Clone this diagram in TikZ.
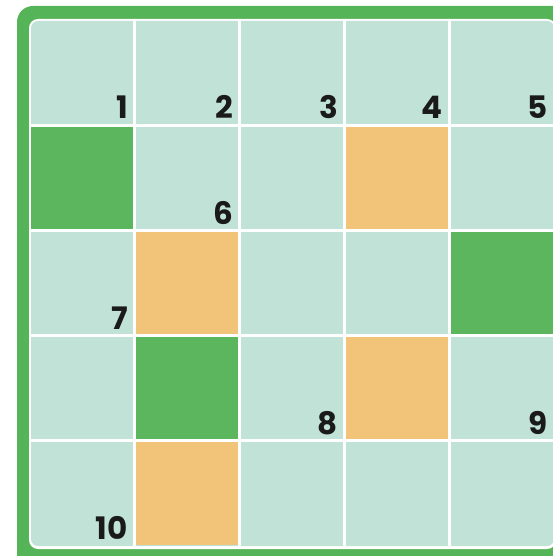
\documentclass[tikz,border=0pt]{standalone}
\usepackage{fontspec}
\newfontfamily\numfont{Poppins}
\definecolor{frame}{RGB}{86,180,88}
\definecolor{mint}{RGB}{193,227,215}
\definecolor{leaf}{RGB}{92,182,94}
\definecolor{apricot}{RGB}{241,196,122}
\definecolor{ink}{RGB}{26,26,26}
\tikzset{
  num/.style={anchor=base east, inner sep=0pt, text=ink,
    font=\numfont\bfseries\fontsize{31}{31}\selectfont},
  gridline/.style={white, line width=3pt}
}

\begin{document}
\begin{tikzpicture}[x=1pt, y=-1pt]
\useasboundingbox (0,0) rectangle (553,556);
\clip (0,0) rectangle (553,556);
% frame and board
\fill[frame, rounded corners=16pt] (17,6) rectangle (600,600);
\fill[white, rounded corners=9pt] (29,19) rectangle (556,549);
\fill[mint, rounded corners=7pt] (31,21) rectangle (554,546);
% coloured squares
\begin{scope}
\clip[rounded corners=7pt] (31,21) rectangle (554,546);
\foreach \c/\r/\col in {1/2/leaf, 4/2/apricot, 2/3/apricot, 5/3/leaf,
                        2/4/leaf, 4/4/apricot, 2/5/apricot}
  \fill[\col] ({31+105*(\c-1)}, {21+105*(\r-1)}) rectangle ++(104,104);
\end{scope}
% grid lines
\foreach \x in {134.5, 239.5, 344.5, 449.5}
  \draw[gridline] (\x,21) -- (\x,546);
\foreach \y in {125.5, 230.5, 335.5, 440.5}
  \draw[gridline] (31,\y) -- (553,\y);
% numbers
\foreach \n/\c/\r in {1/1/1, 2/2/1, 3/3/1, 4/4/1, 5/5/1, 6/2/2, 7/1/3,
                      8/3/4, 9/5/4, 10/1/5}
  \node[num] (n\n) at ({128+105*(\c-1)}, {119+105*(\r-1)}) {\n};
\end{tikzpicture}
\end{document}
